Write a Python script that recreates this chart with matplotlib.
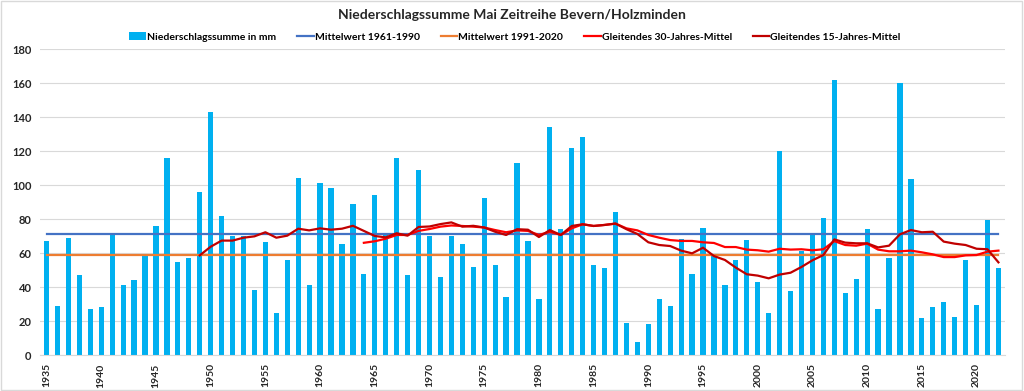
import matplotlib
matplotlib.use("Agg")
import matplotlib.pyplot as plt
from matplotlib.patches import Rectangle
import numpy as np

plt.rcParams['font.family'] = ['Lato', 'DejaVu Sans']

years = list(range(1935, 2023))
precip = [67, 29, 69, 47, 27, 28, 72, 41, 44, 58,
          76, 116, 55, 57, 96, 143, 82, 70, 70, 38.5,
          66.5, 24.5, 56, 104, 41, 101, 98, 65.5, 89, 47.5,
          94, 72, 116, 47, 109, 70, 46, 70, 65.5, 52,
          92.5, 53, 34, 113, 67, 33, 134, 74, 121.5, 128,
          53, 51, 84, 19, 7.6, 18, 33, 29, 68, 47.6,
          74.7, 59, 41, 56, 67.6, 43, 25, 120, 37.4, 61,
          72, 80.6, 161.5, 36.5, 45, 74, 27, 57, 160, 103.5,
          22, 28, 31, 22.5, 56, 29.6, 79.6, 51.4]

mean_1961_1990 = 71
mean_1991_2020 = 58.8

years_30 = list(range(1964, 2023))
ma30 = [66, 66.9, 68.4, 70.6, 70.6, 73, 74.1, 75.5, 76.2, 75.9,
        75.5, 75, 73.5, 72.2, 73.3, 73, 70.6, 72.5, 70.6, 74.5,
        76.9, 75.9, 76.5, 77.3, 74.5, 73.3, 70.6, 69, 67.6, 67.1,
        67.1, 66.3, 65.9, 63.5, 63.5, 62, 61.6, 60.8, 62.5, 62,
        62.2, 61.6, 62.2, 67, 64.7, 64.3, 65.5, 62, 61, 61,
        61.4, 60.4, 59.2, 57.6, 57.6, 58.6, 58.8, 60.8, 61.4]

years_15 = list(range(1949, 2023))
ma15 = [58.6, 63.7, 67.3, 67.3, 69, 69.8, 72.2, 69, 70.2, 74.3,
        73.3, 74.5, 73.7, 74.3, 76, 73, 70, 69.2, 71.6, 70.2,
        75.3, 75.6, 77, 78, 75.5, 76, 75, 72.5, 70.6, 74,
        73.7, 69.4, 73.5, 70.6, 75.9, 76.9, 75.9, 76.5, 77.3, 74,
        71.2, 66.3, 64.7, 64.1, 61.4, 59.8, 63.1, 58.2, 55.9, 51.4,
        47.5, 46.7, 45.1, 47.3, 48.4, 51.8, 55.7, 58.8, 68, 66.1,
        65.7, 65.7, 63.3, 64.3, 71, 73.5, 72.2, 72.5, 66.7, 65.5,
        64.7, 62.5, 62.2, 54.5]

fig = plt.figure(figsize=(10.24, 3.91), dpi=100)
ax = fig.add_axes([40/1024, 36/391, 965/1024, 306/391])

h_bar = ax.bar(years, precip, width=0.48, color='#00B0F0', label='Niederschlagssumme in mm', zorder=2)
h1, = ax.plot([years[0], years[-1]], [mean_1961_1990]*2, color='#4472C4', lw=1.6,
              label='Mittelwert 1961-1990', zorder=3)
h2, = ax.plot([years[0], years[-1]], [mean_1991_2020]*2, color='#ED7D31', lw=1.6,
              label='Mittelwert 1991-2020', zorder=3)
h3, = ax.plot(years_30, ma30, color='#FF0000', lw=1.6, label='Gleitendes 30-Jahres-Mittel', zorder=4)
h4, = ax.plot(years_15, ma15, color='#C00000', lw=1.6, label='Gleitendes 15-Jahres-Mittel', zorder=5)

ax.set_xlim(1934.4, 2022.6)
ax.set_ylim(0, 180)
ax.set_yticks(range(0, 181, 20))
ax.set_xticks(range(1935, 2023, 5))
ax.set_xticklabels([str(y) for y in range(1935, 2023, 5)], rotation=90,
                   fontsize=7.5, fontweight='bold', color='#262626')
for lab in ax.get_yticklabels():
    lab.set_fontsize(8)
    lab.set_fontweight('bold')
    lab.set_color('#262626')
ax.grid(axis='y', color='#d9d9d9', lw=0.8, zorder=0)
ax.tick_params(axis='both', length=0, pad=6)
for s in ['top', 'right', 'left']:
    ax.spines[s].set_visible(False)
ax.spines['bottom'].set_color('#d9d9d9')
ax.set_axisbelow(True)

fig.text(0.5, 1 - 15/391, 'Niederschlagssumme Mai Zeitreihe Bevern/Holzminden',
         ha='center', va='center', fontsize=10, fontweight='bold', color='#262626')
fig.legend(handles=[h_bar, h1, h2, h3, h4],
           labels=['Niederschlagssumme in mm', 'Mittelwert 1961-1990', 'Mittelwert 1991-2020',
                   'Gleitendes 30-Jahres-Mittel', 'Gleitendes 15-Jahres-Mittel'],
           loc='center', bbox_to_anchor=(0.503, 1 - 37/391), ncol=5, frameon=False,
           prop={'weight': 'bold', 'size': 7.5}, handlelength=1.6,
           handletextpad=0.1, columnspacing=2.0, handleheight=0.7)

fig.patches.append(Rectangle((0.001, 0.002), 0.997, 0.995, transform=fig.transFigure,
                             fill=False, edgecolor='#d9d9d9', lw=1))
fig.savefig('out.png', dpi=100)
